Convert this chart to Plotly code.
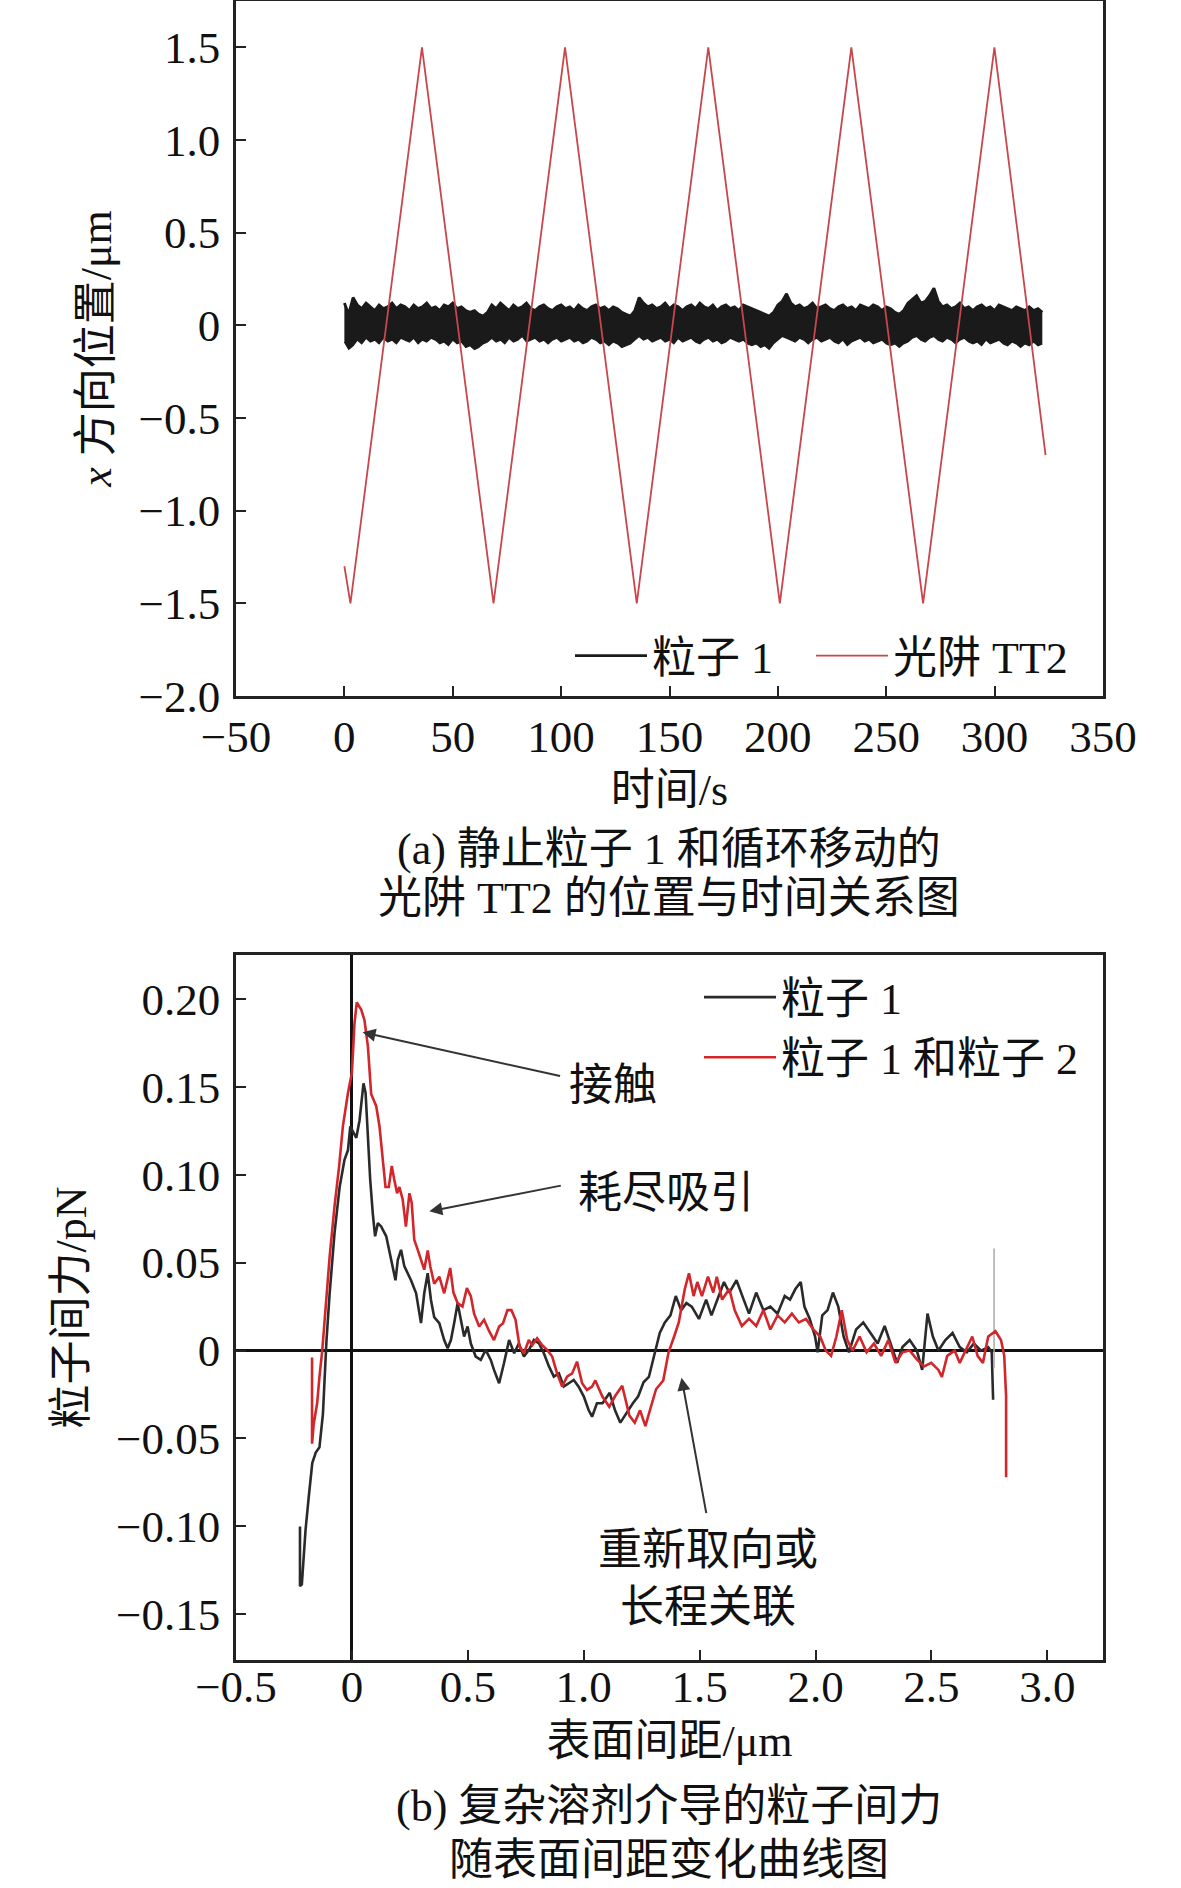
import plotly.graph_objects as go

# (a) 静止粒子 1 与光阱 TT2 的位置
time_band = [0, 2, 4, 6, 8, 10, 12, 14, 16, 18, 20, 22, 24, 26, 28, 30, 32, 34, 36, 38,
             40, 42, 44, 46, 48, 50, 52, 54, 56, 58, 60, 62, 64, 66, 68, 70, 72, 74, 76, 78,
             80, 82, 84, 86, 88, 90, 92, 94, 96, 98, 100, 102, 104, 106, 108, 110, 112, 114,
             116, 118, 120, 122, 124, 126, 128, 130, 132, 134, 136, 138, 140, 142, 144, 146,
             148, 150, 152, 154, 156, 158, 160, 162, 164, 166, 168, 170, 172, 174, 176, 178,
             180, 182, 184, 186, 188, 190, 192, 194, 196, 198, 200, 202, 204, 206, 208, 210,
             212, 214, 216, 218, 220, 222, 224, 226, 228, 230, 232, 234, 236, 238, 240, 242,
             244, 246, 248, 250, 252, 254, 256, 258, 260, 262, 264, 266, 268, 270, 272, 274,
             276, 278, 280, 282, 284, 286, 288, 290, 292, 294, 296, 298, 300, 302, 304, 306,
             308, 310, 312, 314, 316, 318, 320, 322]
p1_upper = [0.12, 0.06, 0.15, 0.11, 0.09, 0.12, 0.10, 0.08, 0.11, 0.09,
            0.10, 0.12, 0.09, 0.11, 0.10, 0.08, 0.11, 0.09, 0.10, 0.12,
            0.09, 0.10, 0.08, 0.11, 0.10, 0.12, 0.09, 0.10, 0.08, 0.07,
            0.08, 0.06, 0.05, 0.07, 0.11, 0.09, 0.12, 0.10, 0.08, 0.11,
            0.09, 0.10, 0.12, 0.09, 0.08, 0.10, 0.11, 0.09, 0.08, 0.10,
            0.11, 0.09, 0.10, 0.08, 0.11, 0.09, 0.08, 0.10, 0.11, 0.09,
            0.10, 0.08, 0.10, 0.09, 0.07, 0.06, 0.05, 0.08, 0.15, 0.12,
            0.10, 0.11, 0.09, 0.10, 0.12, 0.09, 0.11, 0.10, 0.08, 0.10,
            0.11, 0.09, 0.12, 0.10, 0.09, 0.11, 0.08, 0.10, 0.11, 0.09,
            0.10, 0.08, 0.11, 0.10, 0.09, 0.08, 0.07, 0.06, 0.05, 0.07,
            0.11, 0.13, 0.17, 0.12, 0.10, 0.11, 0.09, 0.10, 0.12, 0.09,
            0.10, 0.11, 0.09, 0.08, 0.10, 0.11, 0.09, 0.10, 0.08, 0.11,
            0.10, 0.09, 0.11, 0.10, 0.08, 0.10, 0.09, 0.07, 0.06, 0.08,
            0.12, 0.14, 0.16, 0.12, 0.13, 0.16, 0.20, 0.13, 0.10, 0.11,
            0.09, 0.10, 0.12, 0.09, 0.10, 0.08, 0.10, 0.11, 0.09, 0.10,
            0.08, 0.11, 0.10, 0.09, 0.08, 0.10, 0.09, 0.08, 0.10, 0.08,
            0.09, 0.07]
p1_lower = [-0.09, -0.13, -0.11, -0.08, -0.10, -0.07, -0.09, -0.08, -0.10, -0.07,
            -0.09, -0.08, -0.10, -0.07, -0.08, -0.09, -0.07, -0.10, -0.08, -0.09,
            -0.07, -0.08, -0.10, -0.09, -0.11, -0.08, -0.10, -0.09, -0.12, -0.11,
            -0.13, -0.12, -0.10, -0.09, -0.07, -0.09, -0.08, -0.10, -0.07, -0.09,
            -0.08, -0.06, -0.09, -0.08, -0.07, -0.09, -0.08, -0.10, -0.08, -0.07,
            -0.09, -0.08, -0.07, -0.09, -0.08, -0.10, -0.09, -0.07, -0.08, -0.10,
            -0.09, -0.11, -0.09, -0.10, -0.12, -0.11, -0.10, -0.08, -0.06, -0.08,
            -0.07, -0.09, -0.08, -0.07, -0.09, -0.08, -0.10, -0.07, -0.09, -0.08,
            -0.07, -0.09, -0.10, -0.08, -0.07, -0.09, -0.08, -0.10, -0.09, -0.07,
            -0.08, -0.09, -0.08, -0.10, -0.11, -0.10, -0.12, -0.11, -0.13, -0.10,
            -0.08, -0.06, -0.07, -0.08, -0.09, -0.07, -0.08, -0.10, -0.08, -0.07,
            -0.09, -0.08, -0.07, -0.09, -0.10, -0.08, -0.11, -0.09, -0.08, -0.07,
            -0.09, -0.08, -0.10, -0.09, -0.08, -0.10, -0.11, -0.10, -0.12, -0.10,
            -0.09, -0.07, -0.06, -0.08, -0.09, -0.07, -0.06, -0.08, -0.09, -0.07,
            -0.08, -0.10, -0.08, -0.07, -0.09, -0.10, -0.09, -0.11, -0.08, -0.10,
            -0.09, -0.08, -0.10, -0.11, -0.09, -0.10, -0.12, -0.10, -0.11, -0.09,
            -0.11, -0.10]
trap_t = [0, 2.8, 35.8, 68.8, 101.8, 134.9, 167.9, 200.9, 233.9, 267.0, 299.9, 323.5]
trap_x = [-1.3, -1.5, 1.5, -1.5, 1.5, -1.5, 1.5, -1.5, 1.5, -1.5, 1.5, -0.7]

# (b) 粒子间力 vs 表面间距
d_p1 = [-0.224, -0.224, -0.216, -0.200, -0.186, -0.171, -0.156, -0.140, -0.125, -0.118,
        -0.110, -0.096, -0.075, -0.053, -0.032, -0.017, -0.007, 0.004, 0.019, 0.033,
        0.050, 0.059, 0.069, 0.079, 0.090, 0.100, 0.112, 0.126, 0.148, 0.169, 0.188,
        0.198, 0.212, 0.226, 0.241, 0.255, 0.277, 0.298, 0.312, 0.327, 0.341, 0.355,
        0.377, 0.398, 0.413, 0.427, 0.441, 0.456, 0.470, 0.484, 0.499, 0.513, 0.534,
        0.556, 0.577, 0.599, 0.613, 0.635, 0.656, 0.678, 0.700, 0.720, 0.742, 0.764,
        0.785, 0.807, 0.828, 0.850, 0.871, 0.893, 0.914, 0.936, 0.957, 0.978, 1.000,
        1.021, 1.036, 1.057, 1.081, 1.112, 1.135, 1.158, 1.181, 1.212, 1.235, 1.258,
        1.281, 1.305, 1.328, 1.350, 1.374, 1.397, 1.420, 1.443, 1.466, 1.497, 1.528,
        1.551, 1.582, 1.605, 1.628, 1.659, 1.690, 1.713, 1.744, 1.775, 1.805, 1.836,
        1.867, 1.890, 1.913, 1.936, 1.952, 1.975, 1.998, 2.009, 2.029, 2.052, 2.075,
        2.098, 2.121, 2.144, 2.175, 2.206, 2.237, 2.268, 2.298, 2.329, 2.352, 2.375,
        2.406, 2.437, 2.460, 2.483, 2.506, 2.530, 2.560, 2.591, 2.622, 2.653, 2.683,
        2.714, 2.745, 2.760, 2.766]
f_p1 = [-0.100, -0.134, -0.133, -0.102, -0.083, -0.064, -0.058, -0.055, -0.036, -0.015,
        0.005, 0.0326, 0.0668, 0.093, 0.1085, 0.114, 0.1275, 0.1247, 0.121, 0.131,
        0.152, 0.1465, 0.120, 0.097, 0.078, 0.065, 0.0725, 0.0706, 0.065, 0.0516, 0.040,
        0.0516, 0.0573, 0.048, 0.044, 0.040, 0.0326, 0.0156, 0.0326, 0.044, 0.0288, 0.019,
        0.0156, 0.006, 0.0013, 0.006, 0.0156, 0.027, 0.0175, 0.008, 0.0137, 0.004, -0.0034,
        -0.0053, 0.0004, -0.0053, -0.011, -0.0186, -0.0072, 0.006, -0.0015, 0.004, -0.0034,
        0.0004, 0.006, 0.004, -0.0015, -0.009, -0.0148, -0.013, -0.0205, -0.0186, -0.0167,
        -0.0205, -0.026, -0.0338, -0.0376, -0.030, -0.030, -0.024, -0.034, -0.041, -0.036,
        -0.030, -0.026, -0.018, -0.015, -0.003, 0.010, 0.016, 0.020, 0.031, 0.023, 0.027,
        0.025, 0.018, 0.029, 0.020, 0.031, 0.039, 0.033, 0.040, 0.029, 0.021, 0.033, 0.023,
        0.025, 0.021, 0.031, 0.029, 0.035, 0.039, 0.025, 0.018, 0.008, -0.001, 0.020, 0.023,
        0.033, 0.025, 0.008, -0.001, 0.012, 0.016, 0.010, 0.004, 0.014, 0.002, -0.007,
        0.002, 0.006, 0.000, -0.011, 0.021, 0.008, 0.000, 0.006, 0.010, 0.002, -0.001,
        0.004, 0.000, 0.002, -0.001, -0.028]
d_spike = [2.770, 2.770]
f_spike = [-0.010, 0.058]
d_p12 = [-0.172, -0.172, -0.165, -0.150, -0.140, -0.128, -0.110, -0.096, -0.075, -0.055,
         -0.039, -0.017, 0.000, 0.011, 0.021, 0.040, 0.054, 0.069, 0.083, 0.105, 0.119,
         0.133, 0.145, 0.159, 0.172, 0.183, 0.195, 0.205, 0.219, 0.233, 0.248, 0.258,
         0.269, 0.284, 0.298, 0.312, 0.327, 0.338, 0.355, 0.377, 0.398, 0.424, 0.438,
         0.456, 0.477, 0.496, 0.513, 0.527, 0.549, 0.570, 0.592, 0.613, 0.635, 0.652,
         0.671, 0.688, 0.706, 0.723, 0.742, 0.763, 0.778, 0.799, 0.821, 0.842, 0.864,
         0.885, 0.907, 0.928, 0.950, 0.971, 0.993, 1.014, 1.036, 1.050, 1.080, 1.110,
         1.135, 1.166, 1.197, 1.220, 1.243, 1.266, 1.281, 1.312, 1.343, 1.366, 1.390,
         1.410, 1.436, 1.454, 1.474, 1.490, 1.510, 1.536, 1.559, 1.574, 1.597, 1.628,
         1.651, 1.682, 1.713, 1.744, 1.775, 1.805, 1.836, 1.867, 1.898, 1.928, 1.959,
         1.990, 2.020, 2.044, 2.067, 2.090, 2.113, 2.137, 2.160, 2.190, 2.220, 2.252,
         2.283, 2.314, 2.345, 2.375, 2.406, 2.437, 2.468, 2.499, 2.530, 2.545, 2.568,
         2.600, 2.622, 2.653, 2.676, 2.699, 2.722, 2.745, 2.776, 2.800, 2.814, 2.822, 2.822]
f_p12 = [-0.004, -0.053, -0.042, -0.030, -0.015, 0.000, 0.030, 0.0535, 0.082, 0.105,
         0.1275, 0.1465, 0.158, 0.186, 0.198, 0.194, 0.188, 0.173, 0.146, 0.139, 0.1275,
         0.110, 0.093, 0.093, 0.105, 0.097, 0.0895, 0.093, 0.086, 0.0705, 0.0895, 0.084,
         0.063, 0.0573, 0.0516, 0.046, 0.057, 0.048, 0.038, 0.042, 0.0326, 0.047, 0.033,
         0.027, 0.025, 0.0355, 0.031, 0.021, 0.0137, 0.0175, 0.011, 0.006, 0.0137, 0.0156,
         0.023, 0.023, 0.0175, 0.0023, -0.0015, 0.006, 0.003, 0.007, 0.003, 0.0004, -0.0034,
         -0.013, -0.0205, -0.0148, -0.013, -0.0063, -0.0186, -0.0224, -0.0205, -0.017,
         -0.026, -0.032, -0.026, -0.020, -0.037, -0.041, -0.034, -0.043, -0.036, -0.022,
         -0.017, -0.001, 0.008, 0.016, 0.035, 0.044, 0.031, 0.039, 0.031, 0.042, 0.033,
         0.042, 0.029, 0.035, 0.023, 0.014, 0.018, 0.014, 0.023, 0.012, 0.020, 0.016, 0.021,
         0.016, 0.018, 0.012, 0.008, 0.000, -0.003, 0.008, 0.023, 0.006, 0.000, 0.008,
         -0.001, 0.004, -0.003, 0.006, -0.007, -0.001, 0.000, -0.005, -0.009, -0.007,
         -0.011, -0.015, -0.003, 0.000, -0.007, 0.002, 0.008, -0.003, -0.007, 0.008, 0.011,
         0.006, -0.003, -0.026, -0.072]

ticks_a_x = [-50, 0, 50, 100, 150, 200, 250, 300, 350]
ticks_a_y = [1.5, 1.0, 0.5, 0, -0.5, -1.0, -1.5, -2.0]
labels_a_y = ['1.5', '1.0', '0.5', '0', '−0.5', '−1.0', '−1.5', '−2.0']
ticks_b_x = [-0.5, 0, 0.5, 1.0, 1.5, 2.0, 2.5, 3.0]
labels_b_x = ['−0.5', '0', '0.5', '1.0', '1.5', '2.0', '2.5', '3.0']
ticks_b_y = [0.20, 0.15, 0.10, 0.05, 0, -0.05, -0.10, -0.15]
labels_b_y = ['0.20', '0.15', '0.10', '0.05', '0', '−0.05', '−0.10', '−0.15']

FONT = 'Liberation Serif, Noto Sans CJK SC, serif'
W, H = 1181, 1888
BLACK = '#1a1a1a'
RED_A = '#c9464c'
RED_B = '#d2262a'
TXT = 44

fig = go.Figure()

# 粒子 1 噪声带
fig.add_trace(go.Scatter(x=time_band, y=p1_upper, mode='lines', name='粒子 1',
                         line=dict(color=BLACK, width=2.8), legend='legend',
                         xaxis='x', yaxis='y'))
fig.add_trace(go.Scatter(x=time_band, y=p1_lower, mode='lines', showlegend=False,
                         line=dict(color=BLACK, width=1.2), fill='tonexty',
                         fillcolor=BLACK, xaxis='x', yaxis='y'))
fig.add_trace(go.Scatter(x=trap_t, y=trap_x, mode='lines', name='光阱 TT2',
                         line=dict(color=RED_A, width=1.8), legend='legend3',
                         xaxis='x', yaxis='y'))

fig.add_trace(go.Scatter(x=d_p1, y=f_p1, mode='lines', name='粒子 1',
                         line=dict(color='#2a2a2a', width=2.6), legend='legend2',
                         xaxis='x2', yaxis='y2'))
fig.add_trace(go.Scatter(x=d_spike, y=f_spike, mode='lines', showlegend=False,
                         line=dict(color='#a8a8a8', width=1.5), xaxis='x2', yaxis='y2'))
fig.add_trace(go.Scatter(x=d_p12, y=f_p12, mode='lines', name='粒子 1 和粒子 2',
                         line=dict(color=RED_B, width=2.6), legend='legend2',
                         xaxis='x2', yaxis='y2'))

x_dom = [236 / W, 1103 / W]
axis_common = dict(ticks='inside', ticklen=10, tickwidth=2, tickcolor='#222',
                   showline=True, linecolor='#222', linewidth=2.5, mirror=True,
                   showgrid=False, automargin=False,
                   tickfont=dict(family=FONT, size=45, color='#111'))
legend_common = dict(bgcolor='rgba(0,0,0,0)', font=dict(size=TXT),
                     traceorder='normal', itemwidth=72)

fig.update_layout(
    width=W, height=H, autosize=False,
    margin=dict(l=0, r=0, t=0, b=0),
    paper_bgcolor='white', plot_bgcolor='white',
    font=dict(family=FONT, size=TXT, color='#111'),
    xaxis=dict(domain=x_dom, range=[-50, 350], tickvals=ticks_a_x, zeroline=False,
               ticklabelstandoff=-1,
               title=dict(text='时间/s', standoff=14, font=dict(size=TXT)),
               anchor='y', **axis_common),
    yaxis=dict(domain=[1 - 696 / H, 1 - 1 / H], range=[-2.0, 1.75], tickvals=ticks_a_y,
               ticktext=labels_a_y, zeroline=False, ticklabelstandoff=4,
               title=dict(text='<i>x</i> 方向位置/μm', standoff=14, font=dict(size=TXT)),
               anchor='x', **axis_common),
    xaxis2=dict(domain=x_dom, range=[-0.5, 3.24], tickvals=ticks_b_x, ticktext=labels_b_x,
                zeroline=True, zerolinecolor='#111', zerolinewidth=3,
                ticklabelstandoff=-15,
                title=dict(text='表面间距/μm', standoff=15, font=dict(size=TXT)),
                anchor='y2', **axis_common),
    yaxis2=dict(domain=[1 - 1660 / H, 1 - 955 / H], range=[-0.176, 0.225],
                tickvals=ticks_b_y, ticktext=labels_b_y,
                zeroline=True, zerolinecolor='#111', zerolinewidth=3, ticklabelstandoff=4,
                title=dict(text='粒子间力/pN', standoff=16, font=dict(size=TXT)),
                anchor='x2', **axis_common),
    legend=dict(x=570 / W, xanchor='left', y=1 - 656 / H, yanchor='middle',
                **legend_common),
    legend3=dict(x=811 / W, xanchor='left', y=1 - 656 / H, yanchor='middle',
                 **legend_common),
    legend2=dict(orientation='v', x=699 / W, xanchor='left', y=1 - 962 / H,
                 yanchor='top', tracegroupgap=0, **legend_common),
)

# 图注
cap_x = 669 / W
captions = [('(a) 静止粒子 1 和循环移动的', 850), ('光阱 TT2 的位置与时间关系图', 899),
            ('(b) 复杂溶剂介导的粒子间力', 1806), ('随表面间距变化曲线图', 1860)]
for txt, ypx in captions:
    fig.add_annotation(text=txt, x=cap_x, y=1 - ypx / H, xref='paper', yref='paper',
                       showarrow=False, xanchor='center', yanchor='middle',
                       font=dict(size=TXT))

# 箭头标注
arrows = [(0.046, 0.181, 199, 44), (0.334, 0.0792, 133, -26), (1.422, -0.0154, 25, 137)]
for ax_x, ax_y, dx, dy in arrows:
    fig.add_annotation(x=ax_x, y=ax_y, xref='x2', yref='y2', text='', showarrow=True,
                       ax=dx, ay=dy, arrowhead=2, arrowsize=1.3, arrowwidth=2,
                       arrowcolor='#333', standoff=0)

notes = [('接触', 1.125, 0.1505), ('耗尽吸引', 1.357, 0.0895),
         ('重新取向或<br>长程关联', 1.538, -0.130)]
for txt, nx, ny in notes:
    fig.add_annotation(text=txt, x=nx, y=ny, xref='x2', yref='y2', showarrow=False,
                       xanchor='center', yanchor='middle', font=dict(size=TXT))

fig.write_html("out.html", config={'displayModeBar': False},
               post_script="document.body.style.margin='0px';")
